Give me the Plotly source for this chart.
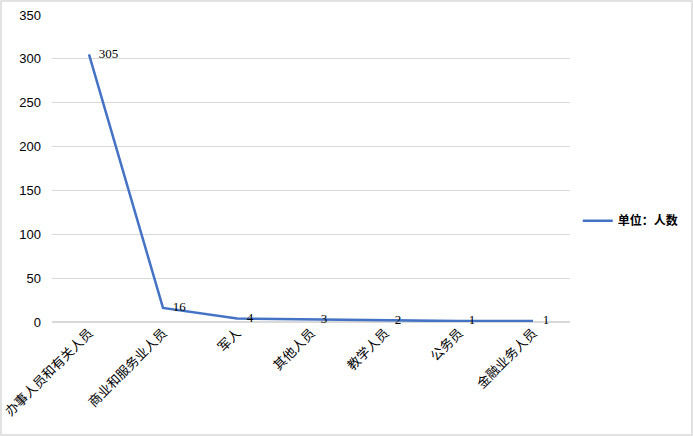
import plotly.graph_objects as go

categories = ["办事人员和有关人员", "商业和服务业人员", "军人", "其他人员", "教学人员", "公务员", "金融业务人员"]
values = [305, 16, 4, 3, 2, 1, 1]
series_name = "单位：人数"
y_ticks = [0, 50, 100, 150, 200, 250, 300, 350]

cjk = "Noto Sans CJK SC"
L, R, T, B = 52, 123, 15, 114
W, H = 693, 436
pw, ph = W - L - R, H - T - B

fig = go.Figure()
fig.add_trace(go.Scatter(
    x=categories, y=values, name=series_name,
    mode="lines+text",
    line=dict(color="#4472C4", width=2.5),
    text=["   " + str(v) for v in values],
    textposition="middle right",
    textfont=dict(family="Liberation Serif, serif", size=13, color="#000000"),
    cliponaxis=False,
))

fig.update_layout(
    width=W, height=H,
    margin=dict(l=L, r=R, t=T, b=B, autoexpand=False),
    paper_bgcolor="white", plot_bgcolor="white",
    showlegend=True,
    legend=dict(x=1.015, y=0.33, xanchor="left", yanchor="middle",
                font=dict(family=cjk, size=12, color="#000000", weight="bold"),
                itemwidth=30),
    xaxis=dict(type="category", tickangle=-45, showgrid=False, showline=False,
               automargin=False,
               ticks="", tickfont=dict(family=cjk, size=13, color="#000000"),
               range=[-0.5, 6.5]),
    yaxis=dict(range=[0, 350], tickvals=y_ticks, showgrid=True, gridcolor="#D9D9D9",
               automargin=False,
               gridwidth=1, zeroline=True, zerolinecolor="#D9D9D9", showline=False,
               ticks="", tickfont=dict(family="Liberation Sans, Arial", size=13, color="#000000"),
               ticklabelstandoff=10),
)
fig.add_shape(type="rect", xref="paper", yref="paper",
              x0=-(L - 1) / pw, x1=1 + (R - 1) / pw, y0=-(B - 1) / ph, y1=1 + (T - 1) / ph,
              line=dict(color="#D9D9D9", width=1.5))

fig.write_html("out.html", config={"displayModeBar": False},
               post_script="document.body.style.margin='0';document.body.style.overflow='hidden';")
